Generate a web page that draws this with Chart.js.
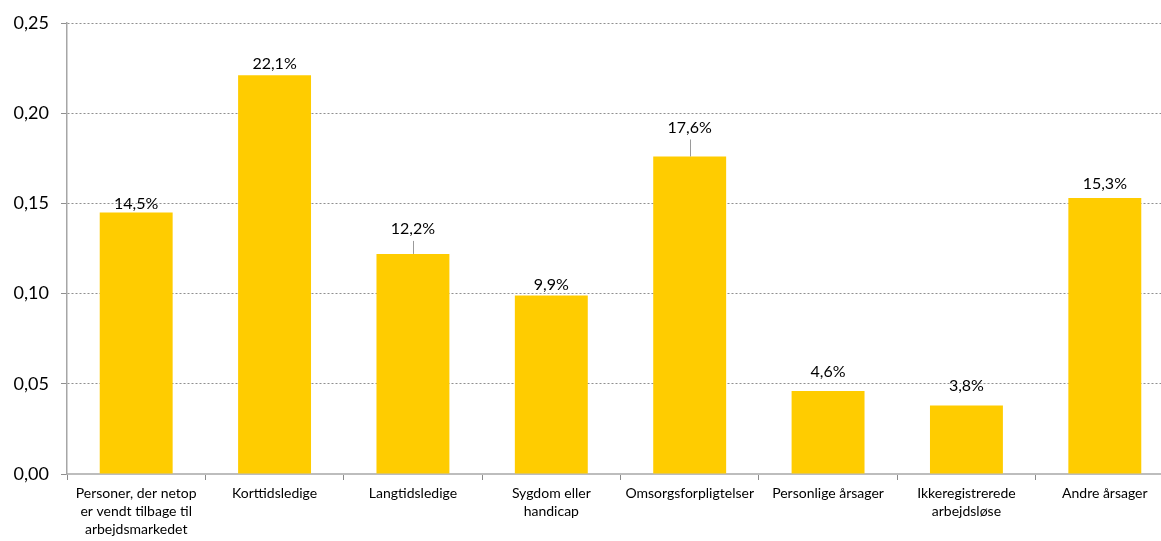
<!DOCTYPE html>
<html>
<head>
<meta charset="utf-8">
<script src="https://cdn.jsdelivr.net/npm/chart.js@4/dist/chart.umd.min.js"></script>
<style>
  html, body { margin: 0; padding: 0; background: #fff; overflow: hidden; }
  #wrap { width: 1161px; height: 541px; overflow: hidden; }
</style>
</head>
<body>
<div id="wrap"><canvas id="chart" width="1174" height="541"></canvas></div>
<script>
/* ===== data ===== */
const categories = [
    ["Personer, der netop", "er vendt tilbage til", "arbejdsmarkedet"],
    "Korttidsledige",
    "Langtidsledige",
    ["Sygdom eller", "handicap"],
    "Omsorgsforpligtelser",
    "Personlige årsager",
    ["Ikkeregistrerede", "arbejdsløse"],
    "Andre årsager"
];
const shares = [0.145, 0.221, 0.122, 0.099, 0.176, 0.046, 0.038, 0.153];
const yTicks = [0, 0.05, 0.10, 0.15, 0.20, 0.25];

const FONT = "Lato, 'Open Sans', sans-serif";
const comma = (v, d) => v.toFixed(d).replace(".", ",");

/* ===== value labels over bars (with leader lines where lifted) ===== */
const valueLabels = {
    id: "valueLabels",
    afterDatasetsDraw(chart, args, opts){
        const ctx = chart.ctx;
        const meta = chart.getDatasetMeta(0);
        ctx.save();
        ctx.font = "16px " + FONT;
        ctx.fillStyle = "#000";
        ctx.textAlign = "center";
        ctx.textBaseline = "middle";
        meta.data.forEach((bar, i) => {
            const lift = opts.lift[i];
            const y = bar.y - lift;
            ctx.fillText(comma(shares[i] * 100, 1) + "%", bar.x, y);
            if(lift > 22){
                ctx.strokeStyle = "#9a9a9a";
                ctx.lineWidth = 1;
                ctx.beginPath();
                ctx.moveTo(Math.round(bar.x) + 0.5, y + 12);
                ctx.lineTo(Math.round(bar.x) + 0.5, bar.y);
                ctx.stroke();
            }
        });
        ctx.restore();
    }
};

new Chart(document.getElementById("chart"), {
    type: "bar",
    data: {
        labels: categories,
        datasets: [{
            data: shares,
            backgroundColor: "#FFCC00",
            borderWidth: 0,
            barPercentage: 0.527,
            categoryPercentage: 1
        }]
    },
    options: {
        responsive: false,
        animation: false,
        layout: { padding: { top: 23, right: 0, left: 0, bottom: 0 } },
        plugins: {
            legend: { display: false },
            tooltip: { enabled: false },
            valueLabels: { lift: [9, 11, 25, 11, 29, 19, 20, 14] }
        },
        scales: {
            x: {
                grid: {
                    offset: true,
                    drawOnChartArea: false,
                    color: "#8a8a8a",
                    tickLength: 6
                },
                border: { color: "#bdbdbd", width: 2 },
                ticks: {
                    color: "#000",
                    font: { family: FONT, size: 14, lineHeight: 1.3 },
                    maxRotation: 0,
                    autoSkip: false,
                    padding: 4
                },
                afterFit: s => { s.height = 67; }
            },
            y: {
                min: 0,
                max: 0.25,
                afterBuildTicks: s => { s.ticks = yTicks.map(v => ({ value: v })); },
                grid: {
                    color: "#8f8f8f",
                    tickLength: 6
                },
                border: { color: "#a6a6a6", width: 1.5, dash: [2, 2] },
                ticks: {
                    color: "#000",
                    font: { family: FONT, size: 18 },
                    padding: 12,
                    callback: v => comma(v, 2)
                },
                afterFit: s => { s.width = 67; }
            }
        }
    },
    plugins: [valueLabels]
});
</script>
</body>
</html>
